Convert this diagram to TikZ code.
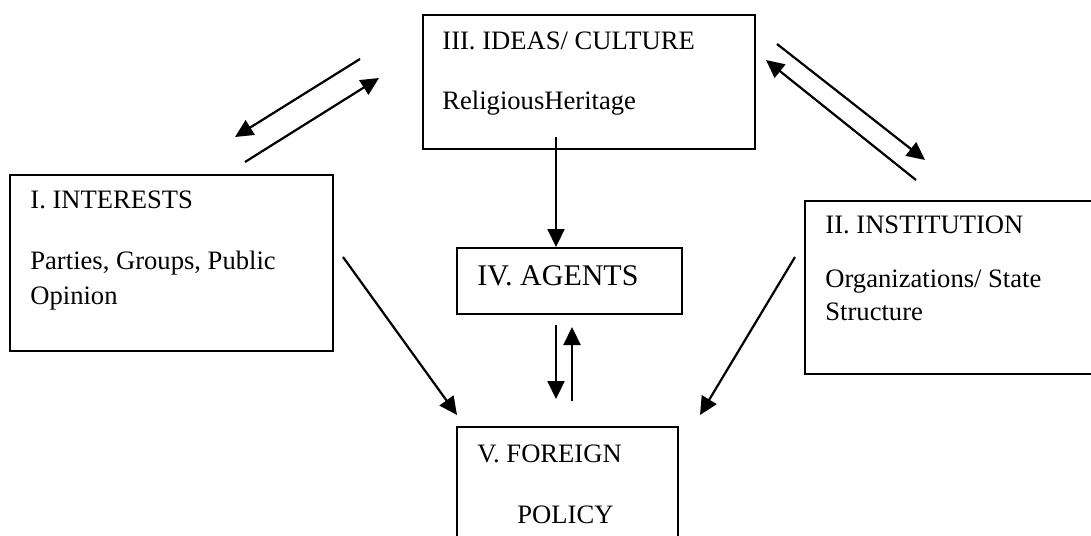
\documentclass[tikz,border=0pt]{standalone}
\usepackage{fontspec}
\setmainfont{Liberation Serif}
\usetikzlibrary{arrows.meta}
\tikzset{
  box/.style={draw, line width=1pt, inner sep=0pt, anchor=north west},
  txt/.style={anchor=base west, inner sep=0pt, font=\fontsize{13.3}{16}\selectfont},
  arr/.style={line width=1.1pt, -{Triangle[length=9pt,width=8.5pt]}}
}
\begin{document}
\begin{tikzpicture}[x=0.5pt, y=-0.5pt]
    \useasboundingbox (0,0) rectangle (1091,535);
    \clip (0,0) rectangle (1091,535);
    % ideas / culture
    \node[box, minimum width=166pt, minimum height=67pt] (ideas) at (422,14) {};
    \node[txt] (ideastitle) at (442,50) {III. IDEAS/ CULTURE};
    \node[txt] (ideastext) at (442,110) {ReligiousHeritage};
    % interests
    \node[box, minimum width=161.5pt, minimum height=88pt] (interests) at (9,174) {};
    \node[txt] (intereststitle) at (30,208) {I. INTERESTS};
    \node[txt] (intereststext) at (30,269) {Parties, Groups, Public};
    \node[txt] (intereststextb) at (30,304) {Opinion};
    % institution
    \node[box, minimum width=158pt, minimum height=86.5pt] (institution) at (804,200) {};
    \node[txt] (institutiontitle) at (825,233) {II. INSTITUTION};
    \node[txt] (institutiontext) at (825,287) {Organizations/ State};
    \node[txt] (institutiontextb) at (825,320) {Structure};
    % agents
    \node[box, minimum width=112.5pt, minimum height=33pt] (agents) at (456,247) {};
    \node[txt, font=\fontsize{15}{18}\selectfont] (agentstitle) at (477,285) {IV. AGENTS};
    % foreign policy
    \node[box, minimum width=110.5pt, minimum height=87pt] (policy) at (456,426) {};
    \node[txt] (policytitle) at (477,462) {V. FOREIGN};
    \node[txt] (policytext) at (517,523) {POLICY};
    % arrow ends
    \coordinate (ideasleft) at (360,59);
    \coordinate (interestsup) at (235,137);
    \coordinate (interestsright) at (245,162);
    \coordinate (ideasleftb) at (379,78);
    \coordinate (ideasright) at (777,44);
    \coordinate (institutionup) at (925,160);
    \coordinate (institutionleft) at (916,180);
    \coordinate (ideasrightb) at (766,60);
    \coordinate (ideasdown) at (556,137);
    \coordinate (agentsdown) at (556,325);
    \coordinate (policyup) at (556,399);
    \coordinate (policyupb) at (572,401);
    \coordinate (agentsdownb) at (572,327);
    \coordinate (interestsdown) at (343,257);
    \coordinate (policyleft) at (457,415);
    \coordinate (institutiondown) at (795,257);
    \coordinate (policyright) at (700,415);
    % connectors
    \draw[arr] (ideasleft) -- (interestsup);
    \draw[arr] (interestsright) -- (ideasleftb);
    \draw[arr] (ideasright) -- (institutionup);
    \draw[arr] (institutionleft) -- (ideasrightb);
    \draw[arr] (ideasdown) -- (agents.north -| ideasdown);
    \draw[arr] (agentsdown) -- (policyup);
    \draw[arr] (policyupb) -- (agentsdownb);
    \draw[arr] (interestsdown) -- (policyleft);
    \draw[arr] (institutiondown) -- (policyright);
\end{tikzpicture}
\end{document}
